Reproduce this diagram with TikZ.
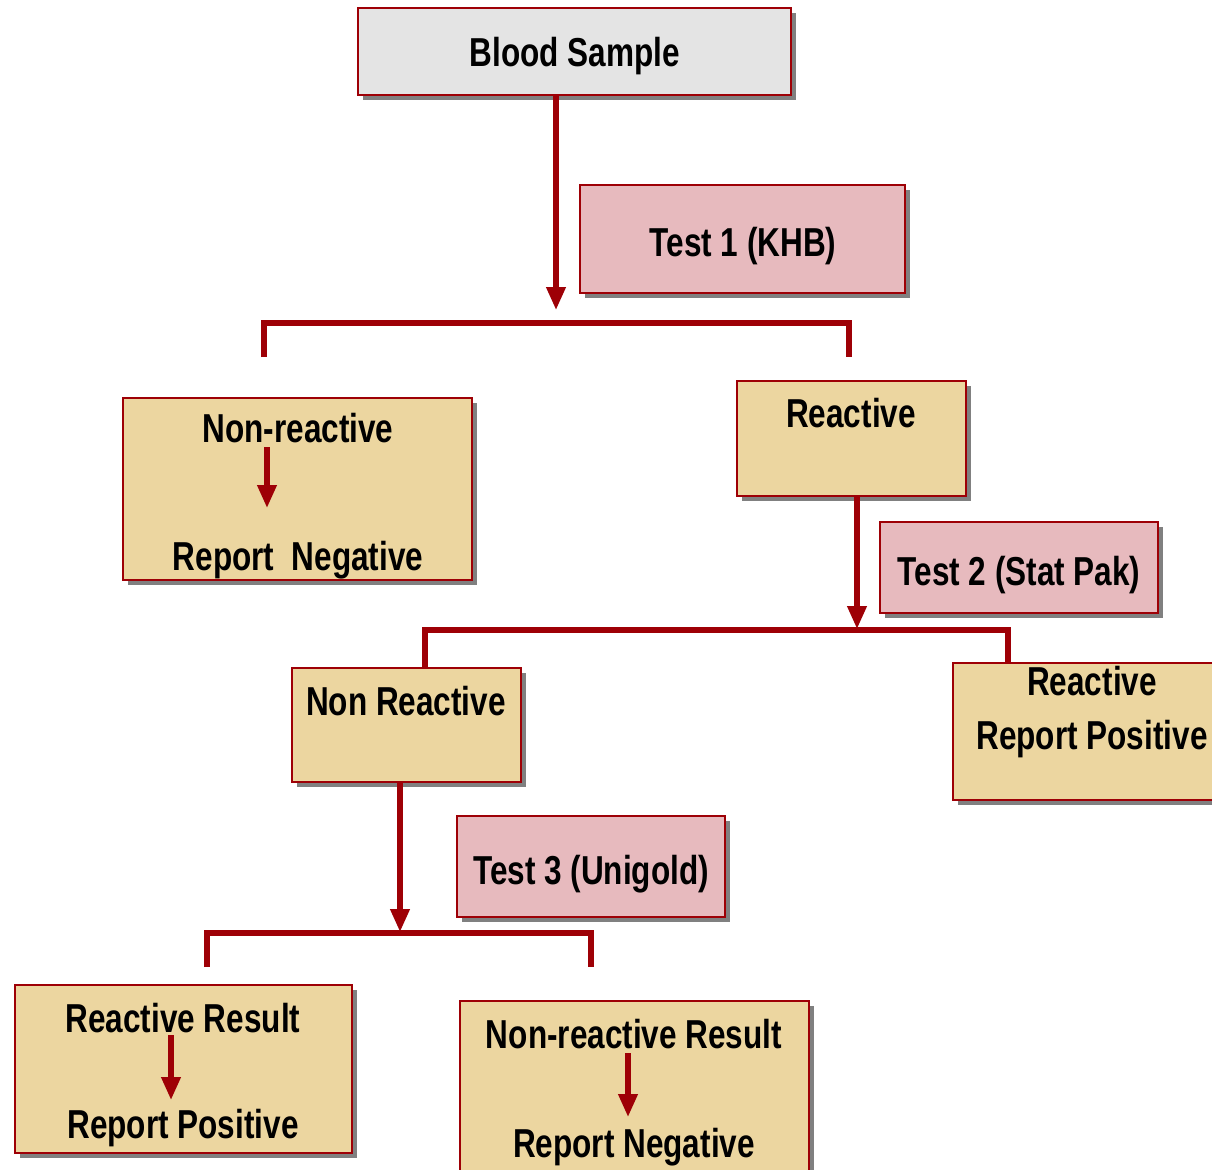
\documentclass[tikz,border=0pt]{standalone}
\usepackage{fontspec}
\setmainfont{Liberation Sans}[FakeStretch=0.78]
\usepackage{tikz}
\usetikzlibrary{arrows.meta,positioning,shadows}

\definecolor{darkred}{RGB}{158,0,6}
\definecolor{papyrus}{RGB}{236,214,160}
\definecolor{rosy}{RGB}{231,186,190}
\definecolor{marble}{RGB}{228,228,228}
\definecolor{shade}{RGB}{128,128,128}

\begin{document}
\begin{tikzpicture}[
    x=0.02cm, y=-0.02cm,
    box/.style={
        draw=darkred,
        line width=1.6pt,
        fill=papyrus,
        inner sep=0pt,
        drop shadow={shadow xshift=0.1cm, shadow yshift=-0.1cm, fill=shade, opacity=1}
    },
    testbox/.style={box, fill=rosy},
    txt/.style={inner sep=0pt, anchor=base, font=\bfseries\fontsize{23}{29}\selectfont, align=center},
    bar/.style={darkred, line width=3pt},
    arrow/.style={darkred, line width=3pt, -{Triangle[length=13pt, width=10.5pt]}}
]
\useasboundingbox (0,0) rectangle (1212,1169);

\node[box, fill=marble, minimum width=8.66cm, minimum height=1.74cm] (blood) at (574.5,51.5) {};
\node[testbox, minimum width=6.5cm, minimum height=2.16cm] (t1) at (742.5,239) {};
\node[box, minimum width=6.98cm, minimum height=3.64cm] (nr1) at (297.5,489) {};
\node[box, minimum width=4.58cm, minimum height=2.3cm] (rea1) at (851.5,438.5) {};
\node[testbox, minimum width=5.56cm, minimum height=1.82cm] (t2) at (1019,567.5) {};
\node[box, minimum width=4.58cm, minimum height=2.28cm] (nr2) at (406.5,725) {};
\node[box, minimum width=5.3cm, minimum height=2.74cm] (rea2) at (1085.5,731.5) {};
\node[testbox, minimum width=5.36cm, minimum height=2.02cm] (t3) at (591,866.5) {};
\node[box, minimum width=6.74cm, minimum height=3.36cm] (rr) at (183.5,1069) {};
\node[box, minimum width=6.98cm, minimum height=3.48cm] (nrr) at (634.5,1088) {};

\node[txt] at (575,67) {Blood Sample};
\node[txt] at (743,256) {Test 1 (KHB)};
\node[txt] (nr1top) at (298,442) {Non-reactive};
\node[txt] (nr1bot) at (298,570) {Report\ \ Negative};
\node[txt] at (851,427) {Reactive};
\node[txt] at (1019,585) {Test 2 (Stat Pak)};
\node[txt] at (406,715) {Non Reactive};
\node[txt] at (1092,695) {Reactive};
\node[txt] at (1092,749) {Report Positive};
\node[txt] at (591,884) {Test 3 (Unigold)};
\node[txt] (rrtop) at (183,1032) {Reactive Result};
\node[txt] (rrbot) at (183,1138) {Report Positive};
\node[txt] (nrrtop) at (634,1048) {Non-reactive Result};
\node[txt] (nrrbot) at (634,1157) {Report Negative};

\coordinate (s1) at (556,310);
\coordinate (s2) at (857,629);
\coordinate (s3) at (400,932);
\coordinate (b1l) at (264,357);
\coordinate (b1r) at (849,357);
\coordinate (b2l) at (425,667);
\coordinate (b2r) at (1008,663);
\coordinate (b3l) at (207,967);
\coordinate (b3r) at (591,967);

\draw[arrow] (blood.south -| s1) -- (s1);
\draw[bar] (b1l) -- ++(0,-34) -| (b1r);
\draw[arrow] (rea1.south -| s2) -- (s2);
\draw[bar] (b2l) -- ++(0,-37) -| (b2r);
\draw[arrow] (nr2.south -| s3) -- (s3);
\draw[bar] (b3l) -- ++(0,-34) -| (b3r);

\draw[arrow] (267,447) -- (267,508);
\draw[arrow] (171,1035) -- (171,1100);
\draw[arrow] (628,1053) -- (628,1117);
\end{tikzpicture}
\end{document}
